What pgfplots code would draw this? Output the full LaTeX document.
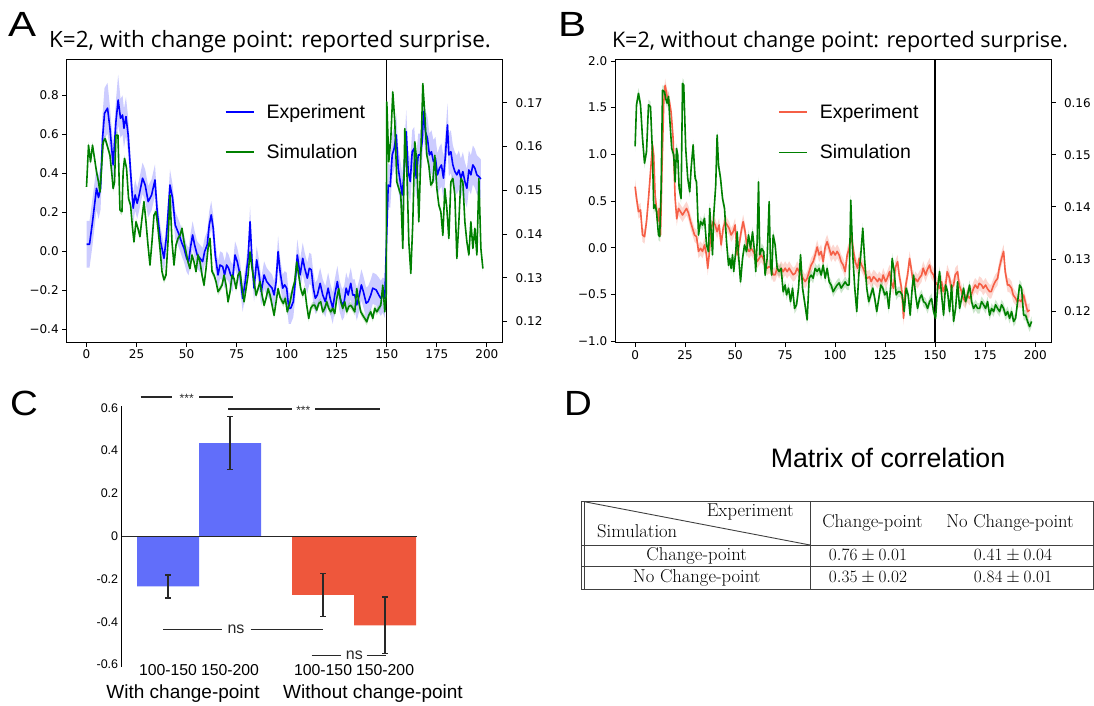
\documentclass[border=0pt]{standalone}
\usepackage{pgfplots}
\pgfplotsset{compat=1.18}
\usepackage{pgfplotstable}
\usepgfplotslibrary{fillbetween}
\usepackage{fontspec}
\newfontfamily\dejavu{DejaVu Sans}
\newfontfamily\helv{Liberation Sans}
\newfontfamily\titlef{Open Sans}
\definecolor{mblue}{RGB}{0,0,255}
\definecolor{mgreen}{RGB}{0,128,0}
\definecolor{mred}{RGB}{245,95,70}
\definecolor{barblue}{RGB}{97,110,250}
\definecolor{barred}{RGB}{238,87,60}
\definecolor{annot}{RGB}{40,40,40}

\pgfplotstableread{
t y e
0 0.034 0.12
1.5 0.034 0.12
3 0.150 0.12
5 0.321 0.11
6 0.274 0.11
7 0.321 0.11
8 0.578 0.12
9 0.706 0.13
10.5 0.732 0.13
11.7 0.629 0.11
13.3 0.441 0.10
14.7 0.663 0.11
15.8 0.774 0.13
17 0.680 0.10
18 0.697 0.10
18.7 0.629 0.10
19.7 0.689 0.10
20.8 0.595 0.09
22 0.407 0.08
23.3 0.219 0.08
24.3 0.287 0.08
25.3 0.244 0.08
26.3 0.287 0.08
28 0.373 0.08
29.3 0.338 0.08
30.8 0.253 0.08
32.5 0.287 0.08
34.2 0.364 0.08
35.3 0.202 0.07
37 0.048 0.07
38.7 -0.038 0.07
40 0.082 0.07
41.7 0.338 0.08
43 0.270 0.07
44.3 0.133 0.07
46.3 0.082 0.07
47.7 0.039 0.07
48.7 0.014 0.07
50 -0.038 0.07
51 -0.055 0.07
52 0.022 0.07
53 0.082 0.07
54 0.031 0.07
55.3 -0.021 0.07
56.7 -0.038 0.07
58 -0.055 0.07
59 -0.003 0.07
60.3 0.031 0.07
61.3 0.133 0.07
62.3 0.185 0.07
63.3 0.116 0.07
64.3 -0.021 0.07
65.7 -0.123 0.07
66.7 -0.072 0.07
68 -0.080 0.07
69 -0.123 0.07
70 -0.072 0.07
71 -0.089 0.07
72 -0.123 0.07
73 -0.140 0.07
74.2 -0.021 0.07
75.3 -0.055 0.07
76.7 -0.123 0.07
78 -0.243 0.07
79.3 -0.157 0.07
80.7 -0.038 0.07
81.7 0.150 0.08
82.7 -0.055 0.07
83.7 -0.191 0.07
85 -0.046 0.07
86 -0.106 0.07
87.3 -0.209 0.07
88.7 -0.123 0.07
90 -0.157 0.07
91.3 -0.174 0.07
92.7 -0.191 0.07
93.7 -0.226 0.07
94.7 -0.157 0.07
95.7 -0.003 0.08
96.7 -0.106 0.07
98 -0.191 0.07
99 -0.174 0.07
100 -0.191 0.08
101 -0.294 0.08
102 -0.294 0.08
103.3 -0.260 0.08
104.3 -0.157 0.08
105.3 -0.021 0.08
106.7 -0.123 0.08
108 -0.038 0.08
109 -0.089 0.08
110.3 -0.140 0.08
111.3 -0.089 0.08
112.3 -0.097 0.08
113.3 -0.191 0.08
114.3 -0.243 0.08
115.3 -0.226 0.08
116.7 -0.166 0.08
118 -0.226 0.08
119.3 -0.260 0.08
120.7 -0.191 0.08
121.7 -0.243 0.08
123 -0.294 0.08
124 -0.226 0.08
125.3 -0.157 0.08
126.3 -0.226 0.08
127.7 -0.277 0.08
128.7 -0.260 0.08
129.7 -0.191 0.08
130.7 -0.226 0.08
132 -0.166 0.08
133 -0.226 0.08
134 -0.226 0.08
135 -0.277 0.08
136.3 -0.226 0.08
137.3 -0.174 0.08
138.3 -0.209 0.08
139.7 -0.268 0.08
140.7 -0.260 0.08
142 -0.226 0.08
143 -0.191 0.08
144.7 -0.200 0.08
146 -0.226 0.09
147 -0.243 0.09
148 -0.226 0.09
149 -0.243 0.10
150.7 0.338 0.11
151.7 0.330 0.11
152.7 0.492 0.11
153.7 0.526 0.11
154.7 0.595 0.11
155.7 0.424 0.11
156.7 0.356 0.11
157.7 0.287 0.11
158.7 0.407 0.11
159.7 0.612 0.11
160.7 0.407 0.11
161.7 0.356 0.11
162.7 0.509 0.11
163.7 0.526 0.11
164.7 0.373 0.11
165.7 0.492 0.11
166.7 0.492 0.11
167.7 0.561 0.11
168.3 0.715 0.12
169.3 0.612 0.11
170.3 0.578 0.11
171.3 0.492 0.11
172.3 0.509 0.11
173.3 0.458 0.11
174.3 0.475 0.11
175.3 0.390 0.11
176.3 0.424 0.11
177.3 0.441 0.11
178.3 0.373 0.11
179.3 0.492 0.11
180.3 0.646 0.11
181 0.492 0.11
182 0.509 0.11
183 0.441 0.10
184 0.407 0.10
185 0.390 0.10
186 0.415 0.10
187 0.373 0.10
188 0.407 0.10
189 0.356 0.10
190 0.321 0.10
191 0.415 0.10
192 0.390 0.10
193 0.441 0.10
194 0.424 0.10
195 0.390 0.10
196 0.381 0.10
197 0.369 0.10
}\blueA

\pgfplotstableread{
t y
0 0.1508
1 0.1603
2 0.1565
3 0.1603
4 0.1573
5 0.1542
6 0.1519
6.7 0.1496
7.3 0.1535
8.3 0.1611
9.3 0.1618
10.3 0.1603
11.7 0.1580
12.7 0.1535
13.3 0.1504
14 0.1519
14.7 0.1626
15.7 0.1626
16.7 0.1455
17.7 0.1451
18.3 0.1542
19 0.1573
20 0.1550
21 0.1481
22 0.1466
23 0.1413
23.7 0.1382
24.7 0.1428
25.7 0.1413
26.7 0.1394
27.7 0.1436
28.7 0.1474
29.7 0.1428
30.7 0.1375
31.7 0.1329
32.7 0.1382
33.7 0.1443
34.7 0.1451
35.7 0.1413
36.7 0.1367
37.7 0.1314
38.7 0.1295
39.7 0.1306
40.7 0.1382
41.7 0.1489
42.7 0.1382
43.7 0.1329
44.7 0.1375
45.7 0.1390
46.7 0.1397
47.7 0.1413
48.7 0.1382
49.7 0.1359
50.7 0.1336
51.7 0.1321
52.7 0.1352
53.7 0.1336
54.7 0.1314
55.7 0.1352
56.7 0.1336
57.7 0.1306
58.7 0.1283
59.7 0.1321
60.7 0.1367
61.7 0.1390
62.7 0.1314
63.7 0.1306
64.7 0.1291
65.7 0.1268
66.7 0.1275
67.7 0.1283
68.7 0.1306
69.7 0.1283
70.7 0.1245
71.7 0.1268
72.7 0.1306
73.7 0.1298
74.7 0.1275
75.7 0.1306
76.7 0.1314
77.7 0.1275
78.7 0.1245
79.7 0.1275
80.7 0.1306
81.7 0.1359
82.7 0.1321
83.7 0.1291
84.7 0.1260
85.7 0.1275
86.7 0.1291
87.7 0.1260
88.7 0.1237
89.7 0.1253
90.7 0.1275
91.7 0.1260
92.7 0.1237
93.7 0.1214
94.7 0.1245
95.7 0.1275
96.7 0.1255
98.3 0.1241
99.3 0.1253
100.3 0.1222
101.7 0.1245
103 0.1275
104 0.1291
105 0.1336
106 0.1306
107 0.1275
108 0.1260
109 0.1275
110 0.1237
111 0.1207
112 0.1230
113 0.1237
114 0.1237
115 0.1226
116 0.1241
117 0.1245
118 0.1222
119 0.1230
120 0.1245
121 0.1230
122 0.1222
123 0.1230
124 0.1218
125 0.1253
126 0.1275
127 0.1245
128 0.1230
129 0.1245
130 0.1222
131 0.1234
132 0.1237
133 0.1230
134 0.1222
135 0.1275
136 0.1245
137 0.1222
138 0.1214
139 0.1207
140 0.1199
141 0.1214
142 0.1222
143 0.1207
144 0.1230
145 0.1222
146 0.1230
147 0.1237
148 0.1283
149 0.1222
149.7 0.1260
150 0.1702
151 0.1565
152 0.1618
153 0.1725
154 0.1657
155 0.1519
156 0.1504
157 0.1489
158 0.1367
159 0.1641
160 0.1550
161 0.1382
162 0.1310
163 0.1428
164 0.1611
165 0.1565
166 0.1428
167 0.1580
168 0.1744
169 0.1672
170 0.1580
171 0.1557
172 0.1512
173 0.1519
174 0.1580
175 0.1504
176 0.1466
177 0.1451
178 0.1397
179 0.1504
180 0.1458
181 0.1390
182 0.1519
183 0.1527
184 0.1489
185 0.1344
186 0.1428
187 0.1527
188 0.1519
189 0.1428
190 0.1382
191 0.1352
192 0.1428
193 0.1367
194 0.1413
195 0.1352
196 0.1527
197 0.1367
198 0.1321
}\greenA

\pgfplotstableread{
t y
0 0.654
0.7 0.529
1.7 0.386
2.7 0.404
3.7 0.136
4.7 0.118
5.7 0.279
6.7 0.529
7.7 0.814
8.7 1.100
9.3 0.993
10 0.564
10.7 0.421
11.3 0.279
12 0.421
12.7 0.136
13.5 0.900
14.3 1.550
15 1.740
16 1.620
17 1.580
18 1.450
19 1.170
20 0.530
20.8 0.310
21.7 0.420
22.7 0.386
23.7 0.350
24.7 0.386
25.7 0.420
26.7 0.370
27.7 0.280
28.7 0.207
29.7 0.136
30.7 0.118
31.7 -0.040
32.7 -0.007
33.7 -0.040
34.7 0.029
35.7 -0.079
36.3 -0.220
37 -0.079
38 0.207
39 0.279
40 0.243
41 0.171
42 0.243
43 0.029
44 0.207
45 0.279
46 0.243
47 0.207
48 0.136
49 0.171
50 0.243
51 -0.079
52 0.029
53 0.171
54 0.279
55 0.171
56 -0.007
57 -0.040
58 -0.007
59 -0.040
60 -0.079
61 -0.150
62 -0.114
63 -0.079
64 -0.114
65 -0.186
66 -0.220
67 -0.200
68 -0.220
69 -0.290
70 -0.290
71 -0.220
72 -0.257
73 -0.220
74 -0.257
75 -0.220
76 -0.257
77 -0.220
78 -0.257
79 -0.290
80 -0.275
81 -0.220
82 -0.257
83 -0.290
84 -0.329
85 -0.364
86 -0.329
87 -0.257
88 -0.186
89 -0.150
90 -0.079
91 0.007
92 -0.079
93 -0.040
94 -0.150
95 0.007
96 0.064
97 -0.007
98 -0.079
99 -0.040
100 -0.079
101 -0.040
102 -0.079
103 -0.150
104 -0.186
105 -0.257
106 -0.079
107 -0.007
108 0.136
108.5 0.064
109.2 -0.040
110 -0.150
111.2 -0.220
112 -0.114
113.2 -0.186
114 -0.220
115.2 -0.290
116 -0.329
117.2 -0.311
118 -0.364
119.2 -0.311
120 -0.329
121.2 -0.364
122 -0.329
123.2 -0.364
124 -0.293
125.2 -0.364
126 -0.329
127.2 -0.257
128 -0.364
129.2 -0.436
130 -0.220
131.2 -0.150
132 -0.293
133.2 -0.436
134.2 -0.757
135 -0.436
136.2 -0.293
137.2 -0.114
138 -0.220
139.2 -0.400
140 -0.329
141.2 -0.364
142 -0.329
143.2 -0.293
144 -0.220
145.2 -0.293
146 -0.239
147.2 -0.186
148 -0.257
149.2 -0.293
150 -0.364
151.2 -0.400
152 -0.436
153.2 -0.364
154 -0.471
155.2 -0.400
156 -0.257
157.2 -0.329
158 -0.436
159.2 -0.400
160 -0.293
161.2 -0.257
162 -0.400
163.2 -0.471
164 -0.543
165.2 -0.579
166 -0.507
167.2 -0.543
168 -0.507
169.2 -0.436
170 -0.400
171.2 -0.436
172 -0.382
173.2 -0.400
174 -0.436
175.2 -0.400
176 -0.436
177.2 -0.471
178 -0.471
179.2 -0.400
180 -0.364
181.2 -0.329
182 -0.220
183.2 -0.114
184.2 -0.040
185 -0.257
186.2 -0.400
187 -0.400
188.2 -0.436
189 -0.507
190.2 -0.543
191 -0.579
192.2 -0.561
193 -0.579
194.2 -0.507
195 -0.579
196.2 -0.686
197.2 -0.668
}\redB

\pgfplotstableread{
t y
0 0.1516
0.7 0.1596
1.7 0.1618
2.7 0.1596
3.7 0.1532
4.7 0.1484
5.7 0.1506
6.7 0.1596
7.7 0.1592
8.7 0.1500
9.3 0.1397
10 0.1404
10.7 0.1391
11.7 0.1346
12.3 0.1343
13 0.1436
13.7 0.1624
14.7 0.1621
15.3 0.1608
16 0.1599
16.7 0.1612
17.3 0.1570
18.3 0.1512
19.3 0.1500
20 0.1448
20.7 0.1512
21.3 0.1500
22 0.1436
23 0.1416
23.7 0.1637
24.3 0.1634
25.3 0.1512
26.3 0.1455
27.3 0.1429
28 0.1474
29 0.1519
30 0.1455
30.7 0.1448
31.7 0.1346
32.7 0.1372
33.7 0.1365
34.7 0.1378
35.7 0.1327
36.7 0.1314
37.3 0.1397
38 0.1352
38.7 0.1308
39.3 0.1384
40.3 0.1442
41 0.1538
41.7 0.1480
42.7 0.1455
43.7 0.1416
44.7 0.1397
45.7 0.1333
46.7 0.1288
47.3 0.1301
48 0.1282
48.7 0.1308
49.3 0.1276
50.3 0.1314
51 0.1352
51.7 0.1308
52.7 0.1256
53.7 0.1301
54.7 0.1327
55.7 0.1314
56.7 0.1346
57.7 0.1320
58.7 0.1352
59.7 0.1314
60.3 0.1276
61 0.1333
61.7 0.1448
62.3 0.1308
63.3 0.1320
64.3 0.1314
65 0.1269
66 0.1301
67 0.1410
67.7 0.1288
68.3 0.1269
69 0.1346
70 0.1327
71 0.1282
72 0.1276
73 0.1282
74 0.1237
75 0.1250
75.7 0.1231
76.7 0.1244
77.7 0.1218
78.7 0.1244
79.7 0.1205
80.7 0.1212
81.7 0.1244
82.7 0.1308
83.7 0.1244
84.7 0.1218
86 0.1183
87 0.1263
88 0.1269
89 0.1263
90 0.1282
91 0.1276
92 0.1282
93 0.1269
94 0.1288
95 0.1263
96 0.1282
97 0.1256
98 0.1250
99 0.1237
100 0.1244
101 0.1250
102 0.1254
103 0.1244
104 0.1250
105 0.1256
106 0.1250
107 0.1250
107.8 0.1413
108.8 0.1308
109.8 0.1244
110.8 0.1199
111.8 0.1269
112.8 0.1308
113.8 0.1359
114.8 0.1295
115.8 0.1244
116.8 0.1218
117.8 0.1231
118.8 0.1244
119.8 0.1224
120.8 0.1199
121.8 0.1224
122.8 0.1250
123.8 0.1244
124.8 0.1231
125.8 0.1237
126.8 0.1205
127.8 0.1250
128.5 0.1301
129.5 0.1276
130.5 0.1231
131.5 0.1237
132.5 0.1237
133.5 0.1231
134.5 0.1199
135.5 0.1244
136.5 0.1231
137.5 0.1192
138.5 0.1244
139.2 0.1269
140.2 0.1231
141.2 0.1205
142.2 0.1224
143.2 0.1231
144.2 0.1218
145.2 0.1215
146.2 0.1205
147.2 0.1218
148.2 0.1224
149.2 0.1199
150.2 0.1186
151.2 0.1244
152.2 0.1276
153.2 0.1231
154.2 0.1192
155.2 0.1250
156.2 0.1237
157.2 0.1199
158.2 0.1250
159.2 0.1180
160.2 0.1205
161.2 0.1256
162.2 0.1205
163.2 0.1224
164.2 0.1244
165.2 0.1218
166.2 0.1231
167.2 0.1250
168.2 0.1218
169.2 0.1205
170.2 0.1212
171.2 0.1205
172.2 0.1205
173.2 0.1218
174.2 0.1212
175.2 0.1205
176.2 0.1218
177.2 0.1192
178.2 0.1205
179.2 0.1199
180.2 0.1212
181.2 0.1205
182.2 0.1199
183.2 0.1212
184.2 0.1205
185.2 0.1192
186.2 0.1199
187.2 0.1186
188.2 0.1199
189.2 0.1180
190.2 0.1186
191.2 0.1218
192.2 0.1250
193.2 0.1244
194.2 0.1192
195.2 0.1192
196.2 0.1180
197.2 0.1170
198.2 0.1180
}\greenB

\pgfplotsset{
  tsax/.style={scale only axis, xmin=-9.9, xmax=207.9,
    tick align=outside, major tick length=4.5pt,
    tick style={black, line width=0.8pt},
    axis line style={line width=1pt},
    ticklabel style={font=\dejavu\fontsize{12}{14}\selectfont},
    /pgf/number format/assume math mode=true},
  leg/.style={legend style={draw=none, fill=none, at={(axis description cs:#1)}, anchor=north west,
      inner sep=0pt, row sep=21pt, column sep=10pt, font=\helv\fontsize{19.5}{22}\selectfont},
    legend cell align=left,
    legend image code/.code={\draw[##1] (0pt,0pt) -- (28pt,0pt);}},
}

\begin{document}
\begin{tikzpicture}

% ---------- Panel A ----------
\begin{axis}[tsax, at={(66.7pt,-342pt)}, anchor=south west, width=436pt, height=282pt,
  ymin=-0.467, ymax=0.979, xtick={0,25,...,200}, xtick pos=left, ytick pos=left,
  ytick={-0.4,-0.2,0,0.2,0.4,0.6,0.8}, yticklabels={−0.4,−0.2,0.0,0.2,0.4,0.6,0.8},
  leg={0.362,0.852}]
\addplot[name path=aU, draw=none, forget plot] table[x=t, y expr=\thisrow{y}+\thisrow{e}] {\blueA};
\addplot[name path=aL, draw=none, forget plot] table[x=t, y expr=\thisrow{y}-\thisrow{e}] {\blueA};
\addplot[fill=mblue, fill opacity=0.2, draw=none, forget plot] fill between[of=aU and aL];
\addplot[mblue, line width=1.6pt, line join=round, forget plot] table[x=t, y=y] {\blueA};
\addplot[black, line width=1.4pt, forget plot] coordinates {(150,-0.467) (150,0.979)};
\addlegendimage{mblue, line width=1.8pt}
\addlegendentry{Experiment}
\addlegendimage{mgreen, line width=1.8pt}
\addlegendentry{Simulation}
\end{axis}
\begin{axis}[tsax, at={(66.7pt,-342pt)}, anchor=south west, width=436pt, height=282pt,
  ymin=0.1153, ymax=0.1798, axis x line=none, axis y line*=right, ytick pos=right,
  yticklabel style={xshift=5pt},
  ytick={0.12,0.13,0.14,0.15,0.16,0.17}, yticklabels={0.12,0.13,0.14,0.15,0.16,0.17}]
\addplot[name path=gU, draw=none, forget plot] table[x=t, y expr=\thisrow{y}+0.0008] {\greenA};
\addplot[name path=gL, draw=none, forget plot] table[x=t, y expr=\thisrow{y}-0.0008] {\greenA};
\addplot[fill=mgreen, fill opacity=0.2, draw=none, forget plot] fill between[of=gU and gL];
\addplot[mgreen, line width=1.6pt, line join=round] table[x=t, y=y] {\greenA};
\end{axis}

% ---------- Panel B ----------
\begin{axis}[tsax, at={(615.3pt,-342.3pt)}, anchor=south west, width=435.7pt, height=282.3pt,
  ymin=-1.014, ymax=2.011, xtick={0,25,...,200}, xtick pos=left, ytick pos=left,
  ytick={-1,-0.5,0,0.5,1,1.5,2}, yticklabels={−1.0,−0.5,0.0,0.5,1.0,1.5,2.0},
  leg={0.373,0.852}]
\addplot[name path=rU, draw=none, forget plot] table[x=t, y expr=\thisrow{y}+0.075] {\redB};
\addplot[name path=rL, draw=none, forget plot] table[x=t, y expr=\thisrow{y}-0.075] {\redB};
\addplot[fill=mred, fill opacity=0.25, draw=none, forget plot] fill between[of=rU and rL];
\addplot[mred, line width=1.6pt, line join=round, forget plot] table[x=t, y=y] {\redB};
\addplot[black, line width=1.4pt, forget plot] coordinates {(150,-1.014) (150,2.011)};
\addlegendimage{mred, line width=1.8pt}
\addlegendentry{Experiment}
\addlegendimage{mgreen, line width=1.8pt}
\addlegendentry{Simulation}
\end{axis}
\begin{axis}[tsax, at={(615.3pt,-342.3pt)}, anchor=south west, width=435.7pt, height=282.3pt,
  ymin=0.114, ymax=0.1682, axis x line=none, axis y line*=right, ytick pos=right,
  yticklabel style={xshift=5pt},
  ytick={0.12,0.13,0.14,0.15,0.16}, yticklabels={0.12,0.13,0.14,0.15,0.16}]
\addplot[name path=hU, draw=none, forget plot] table[x=t, y expr=\thisrow{y}+0.001] {\greenB};
\addplot[name path=hL, draw=none, forget plot] table[x=t, y expr=\thisrow{y}-0.001] {\greenB};
\addplot[fill=mgreen, fill opacity=0.2, draw=none, forget plot] fill between[of=hU and hL];
\addplot[mgreen, line width=1.6pt, line join=round] table[x=t, y=y] {\greenB};
\end{axis}

% ---------- Panel C ----------
\begin{axis}[at={(121.7pt,-666.7pt)}, anchor=south west, scale only axis,
  width=295pt, height=261pt, xmin=-0.747, xmax=4.01, ymin=-0.61, ymax=0.61,
  axis x line*=bottom, axis y line*=left,
  x axis line style={draw=none}, y axis line style={line width=1pt, -},
  major tick length=0pt,
  ytick={-0.6,-0.4,-0.2,0,0.2,0.4,0.6}, yticklabels={-0.6,-0.4,-0.2,0,0.2,0.4,0.6},
  xtick={0,1,2.5,3.5}, xticklabels={100-150,150-200,100-150,150-200},
  yticklabel style={font=\helv\fontsize{12.5}{14}\selectfont},
  xticklabel style={font=\helv\fontsize{15.8}{18}\selectfont, yshift=6pt},
  /pgf/number format/assume math mode=true, clip=false]
\addplot[ybar, bar width=1, bar shift=0pt, fill=barblue, draw=none,
  error bars/.cd, y dir=both, y explicit,
  error bar style={line width=1.2pt, color=annot},
  error mark options={rotate=90, mark size=2.6pt, line width=1.2pt, color=annot}]
  coordinates {(0,-0.235) +- (0,0.054) (1,0.435) +- (0,0.123)};
\addplot[ybar, bar width=1, bar shift=0pt, fill=barred, draw=none,
  error bars/.cd, y dir=both, y explicit,
  error bar style={line width=1.2pt, color=annot},
  error mark options={rotate=90, mark size=2.6pt, line width=1.2pt, color=annot}]
  coordinates {(2.5,-0.274) +- (0,0.101) (3.5,-0.417) +- (0,0.133)};
\addplot[black!85, line width=1.3pt, forget plot] coordinates {(-0.747,0) (4.01,0)};
\end{axis}

% annotations C
\begin{scope}[annot, line width=1.2pt]
\draw (140.7pt,-397pt) -- (172.3pt,-397pt);
\draw (199pt,-397pt) -- (233.3pt,-397pt);
\node[font=\helv\fontsize{12}{14}\selectfont] at (186.7pt,-398.5pt) {***};
\draw (228.3pt,-409pt) -- (291.7pt,-409pt);
\draw (315pt,-409pt) -- (380pt,-409pt);
\node[font=\helv\fontsize{12}{14}\selectfont] at (303.3pt,-410.5pt) {***};
\draw (163.3pt,-629.3pt) -- (221.7pt,-629.3pt);
\draw (250.7pt,-629.3pt) -- (322.7pt,-629.3pt);
\node[font=\helv\fontsize{16}{18}\selectfont, inner sep=0pt] at (236pt,-629pt) {ns};
\draw (311.7pt,-655.7pt) -- (340.7pt,-655.7pt);
\draw (366.7pt,-655.7pt) -- (386pt,-655.7pt);
\node[font=\helv\fontsize{16}{18}\selectfont, inner sep=0pt] at (354.3pt,-655pt) {ns};
\end{scope}
\node[anchor=base, font=\helv\fontsize{19}{22}\selectfont] at (183pt,-698.3pt) {With change-point};
\node[anchor=base, font=\helv\fontsize{19}{22}\selectfont] at (373pt,-698.3pt) {Without change-point};

% ---------- Titles and letters ----------
\node[anchor=base, font=\titlef\fontsize{22.5}{26}\selectfont] at (270pt,-48pt) {K=2, with change point: reported surprise.};
\node[anchor=base, font=\titlef\fontsize{21.5}{26}\selectfont] at (840pt,-48pt) {K=2, without change point: reported surprise.};
\node[anchor=base west, inner sep=0pt, xscale=1.2, font=\helv\fontsize{35}{40}\selectfont] at (8pt,-37pt) {A};
\node[anchor=base west, inner sep=0pt, xscale=1.2, font=\helv\fontsize{35}{40}\selectfont] at (558pt,-37pt) {B};
\node[anchor=base west, inner sep=0pt, xscale=1.1, font=\helv\fontsize{35}{40}\selectfont] at (10pt,-415pt) {C};
\node[anchor=base west, inner sep=0pt, xscale=1.1, font=\helv\fontsize{35}{40}\selectfont] at (564pt,-415pt) {D};

% ---------- Panel D ----------
\node[anchor=base, font=\helv\fontsize{26.7}{30}\selectfont] at (888pt,-467pt) {Matrix of correlation};
\begin{scope}[black!75, line width=0.9pt]
\draw (581pt,-501.7pt) -- (1093.5pt,-501.7pt);
\draw (581pt,-545pt) -- (1093.5pt,-545pt);
\draw (581pt,-566.7pt) -- (1093.5pt,-566.7pt);
\draw (581pt,-589pt) -- (1093.5pt,-589pt);
\draw (581pt,-501.7pt) -- (581pt,-589pt);
\draw (584.3pt,-501.7pt) -- (584.3pt,-589pt);
\draw (810pt,-501.7pt) -- (810pt,-589pt);
\draw (1093pt,-501.7pt) -- (1093pt,-589pt);
\draw (584.3pt,-501.7pt) -- (810pt,-545pt);
\end{scope}
\begin{scope}[every node/.style={anchor=base, inner sep=0pt, font=\rmfamily\fontsize{18.6}{21}\selectfont}]
\node[anchor=base east] at (794pt,-516pt) {Experiment};
\node[anchor=base west] at (597pt,-537.3pt) {Simulation};
\node at (872.5pt,-527.3pt) {Change-point};
\node at (1010pt,-527.3pt) {No Change-point};
\node at (696.7pt,-560pt) {Change-point};
\node at (868pt,-560pt) {$0.76\pm0.01$};
\node at (1013pt,-560pt) {$0.41\pm0.04$};
\node at (696.7pt,-582pt) {No Change-point};
\node at (868pt,-582pt) {$0.35\pm0.02$};
\node at (1013pt,-582pt) {$0.84\pm0.01$};
\end{scope}

\pgfresetboundingbox
\useasboundingbox (0,0) rectangle (1094pt,-706pt);
\end{tikzpicture}
\end{document}
